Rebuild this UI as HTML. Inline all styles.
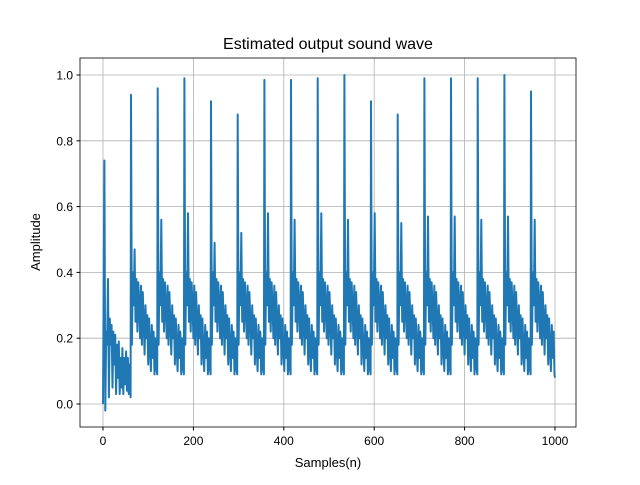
<!DOCTYPE html>
<html><head><meta charset="utf-8"><style>
body{margin:0;background:#fff;}
svg{font-family:"Liberation Sans","DejaVu Sans",sans-serif;}
</style></head><body>
<svg id="chart" width="640" height="480">
<rect width="640" height="480" fill="#fff"/>
<text x="328" y="49" text-anchor="middle" font-size="16">Estimated output sound wave</text>
<g id="grid"></g>
<g id="ticks"></g>
<polyline id="wave" fill="none" stroke="#1f77b4" stroke-width="2" stroke-linejoin="round"/>
<rect x="80" y="58" width="496" height="369" fill="none" stroke="#000" stroke-width="0.8"/>
<text x="328" y="467" text-anchor="middle" font-size="13">Samples(n)</text>
<text x="0" y="0" transform="translate(40,242) rotate(-90)" text-anchor="middle" font-size="13">Amplitude</text>
</svg>
<script>
const xTicks=[0,200,400,600,800,1000];
const yTicks=[0.0,0.2,0.4,0.6,0.8,1.0];
const periodStarts=[3,62,121,180,239,298,357,416,475,534,593,652,711,770,829,888,947];
const peaks=[0.74,0.94,0.96,0.99,0.92,0.88,0.985,0.985,0.99,1.0,0.92,0.88,0.99,0.99,0.99,1.0,0.95];
const secondaries=[0.38,0.47,0.56,0.58,0.49,0.52,0.58,0.56,0.58,0.56,0.58,0.55,0.57,0.57,0.56,0.57,0.56];
const template=[1,0.18,0.40,0.30,0.5,0.25,0.38,0.22,0.37,0.30,0.20,0.36,0.18,0.34,0.25,0.15,0.30,0.20,0.27,0.12,0.26,0.17,0.10,0.24,0.14,0.22,0.09,0.20,0.11,0.09];
const firstPeriod=[0.74,-0.02,0.22,0.18,0.38,0.02,0.26,0.18,0.24,0.05,0.22,0.12,0.21,0.03,0.18,0.08,0.19,0.03,0.14,0.05,0.17,0.03,0.14,0.06,0.16,0.04,0.14,0.03,0.12,0.02];
const startValue=0.0, endValue=0.08;
const X=v=>103+(v/1000)*452, Y=v=>404-v*329;
const NS="http://www.w3.org/2000/svg";
const grid=document.getElementById('grid'), ticks=document.getElementById('ticks');
xTicks.forEach(t=>{
 const l=document.createElementNS(NS,'line');
 l.setAttribute('x1',X(t));l.setAttribute('x2',X(t));l.setAttribute('y1',58);l.setAttribute('y2',427);
 l.setAttribute('stroke','#b0b0b0');l.setAttribute('stroke-width','0.8');
 
 
 grid.appendChild(l);
 const tk=document.createElementNS(NS,'line');
 tk.setAttribute('x1',X(t));tk.setAttribute('x2',X(t));tk.setAttribute('y1',427);tk.setAttribute('y2',430.5);tk.setAttribute('stroke','#000');
 
 
 ticks.appendChild(tk);
 const tx=document.createElementNS(NS,'text');
 tx.setAttribute('x',X(t));tx.setAttribute('y',445);tx.setAttribute('text-anchor','middle');tx.setAttribute('font-size','12');
 tx.textContent=t;
 
 
 ticks.appendChild(tx);
});
yTicks.forEach(t=>{
 const l=document.createElementNS(NS,'line');
 l.setAttribute('x1',80);l.setAttribute('x2',576);l.setAttribute('y1',Y(t));l.setAttribute('y2',Y(t));
 l.setAttribute('stroke','#b0b0b0');l.setAttribute('stroke-width','0.8');
 
 
 grid.appendChild(l);
 const tk=document.createElementNS(NS,'line');
 tk.setAttribute('x1',76.5);tk.setAttribute('x2',80);tk.setAttribute('y1',Y(t));tk.setAttribute('y2',Y(t));tk.setAttribute('stroke','#000');
 
 
 ticks.appendChild(tk);
 const tx=document.createElementNS(NS,'text');
 tx.setAttribute('x',73);tx.setAttribute('y',Y(t)+4.5);tx.setAttribute('text-anchor','end');tx.setAttribute('font-size','12');
 tx.textContent=t.toFixed(1);
 
 
 ticks.appendChild(tx);
});
const pts=[[0,startValue]];
periodStarts.forEach((s,k)=>{
 const next=k+1<periodStarts.length?periodStarts[k+1]:1000;
 for(let i=0;i<template.length;i++){
  const x=s+i*2; if(x>=next) break;
  let v;
  if(k===0) v=firstPeriod[i];
  else if(i===0) v=peaks[k];
  else if(i===4) v=secondaries[k];
  else v=template[i];
  pts.push([x,v]);
 }
});
pts.push([1000,endValue]);
document.getElementById('wave').setAttribute('points',pts.map(p=>X(p[0]).toFixed(1)+','+Y(p[1]).toFixed(1)).join(' '));
</script>
</body></html>
